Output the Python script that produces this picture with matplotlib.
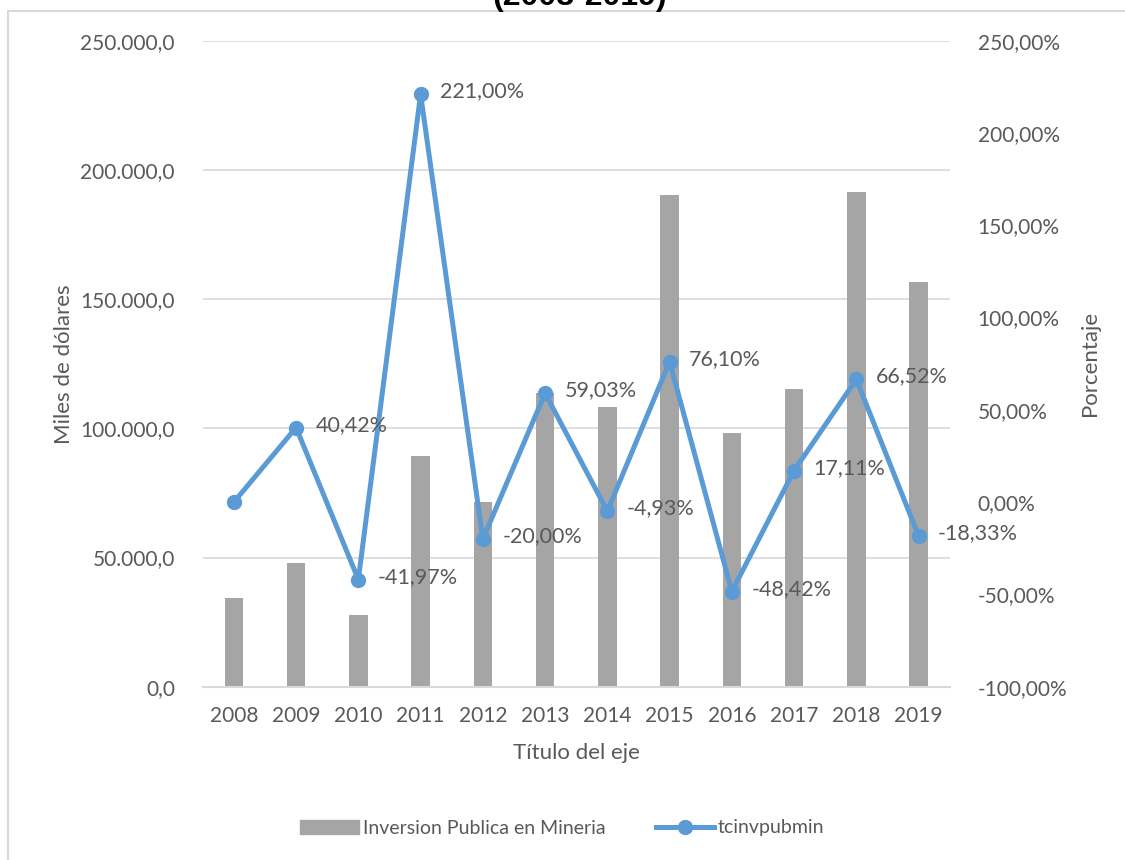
import numpy as np
import matplotlib
matplotlib.use("Agg")
import matplotlib.pyplot as plt
from matplotlib.lines import Line2D
from matplotlib.patches import Patch, Rectangle
from matplotlib.ticker import FuncFormatter

# ── data ──
years = ["2008", "2009", "2010", "2011", "2012", "2013",
         "2014", "2015", "2016", "2017", "2018", "2019"]
inversion = [34180, 48000, 27850, 89400, 71520, 113740,
             108130, 190420, 98220, 115030, 191540, 156430]
tasa = [0.0, 40.42, -41.97, 221.00, -20.00, 59.03,
        -4.93, 76.10, -48.42, 17.11, 66.52, -18.33]
tasa_labels = [None, "40,42%", "-41,97%", "221,00%", "-20,00%", "59,03%",
               "-4,93%", "76,10%", "-48,42%", "17,11%", "66,52%", "-18,33%"]

BAR_COL = "#A5A5A5"
LINE_COL = "#5B9BD5"
TXT = "#595959"
GRID = "#D9D9D9"

plt.rcParams["font.family"] = ["Lato", "DejaVu Sans"]

fig = plt.figure(figsize=(11.25, 8.6), dpi=100)
ax = fig.add_axes([0.1802, 0.2015, 0.6640, 0.7512])
ax2 = ax.twinx()

x = np.arange(len(years))
ax.bar(x, inversion, width=0.3, color=BAR_COL, zorder=2)
ax.set_xlim(-0.5, len(years) - 0.5)
ax.set_ylim(0, 250000)
ax.set_yticks(np.arange(0, 250001, 50000))
ax.yaxis.set_major_formatter(FuncFormatter(
    lambda v, p: f"{v:,.1f}".replace(",", "X").replace(".", ",").replace("X", ".")))
ax.grid(axis="y", color=GRID, linewidth=1.2, zorder=0)
ax.set_axisbelow(True)
ax.set_xticks(x)
ax.set_xticklabels(years)

ax2.plot(x, tasa, color=LINE_COL, linewidth=3.6, marker="o", markersize=10,
         zorder=3, solid_capstyle="round")
ax2.set_ylim(-100, 250)
ax2.set_yticks(np.arange(-100, 251, 50))
ax2.yaxis.set_major_formatter(FuncFormatter(
    lambda v, p: f"{v:.2f}%".replace(".", ",")))

for xi, yi, lab in zip(x, tasa, tasa_labels):
    if lab is None:
        continue
    ax2.annotate(lab, (xi, yi), xytext=(14, 2), textcoords="offset points",
                 ha="left", va="center", fontsize=15.5, color=TXT)

for a in (ax, ax2):
    for s in a.spines.values():
        s.set_visible(False)
    a.tick_params(length=0, labelsize=15, colors=TXT)
ax.spines["bottom"].set_visible(True)
ax.spines["bottom"].set_color(GRID)
ax.spines["bottom"].set_linewidth(1.5)
ax.tick_params(axis="x", pad=14)
ax.tick_params(axis="y", pad=20)
ax2.tick_params(axis="y", pad=20)

ax.set_xlabel("Título del eje", fontsize=16, color=TXT, labelpad=12)
ax.set_ylabel("Miles de dólares", fontsize=16, color=TXT, labelpad=5)
ax2.set_ylabel("Porcentaje", fontsize=16, color=TXT, labelpad=9)

handles = [Patch(color=BAR_COL),
           Line2D([0], [0], color=LINE_COL, linewidth=3.6, marker="o", markersize=10)]
fig.legend(handles, ["Inversion Publica en Mineria", "tcinvpubmin"],
           loc="center", bbox_to_anchor=(0.5, 1 - 828 / 860), ncol=2,
           frameon=False, fontsize=14, labelcolor=TXT, handlelength=3.0,
           handletextpad=0.2, columnspacing=2.6)

# partially visible title and chart border
fig.text(0.515, 1 - 5 / 860, "(2008-2019)", ha="center", va="baseline",
         fontsize=23, fontweight="bold", family="Liberation Sans", color="black")
fig.patches.append(Rectangle((8 / 1125, -0.05), 1.1, 1 - 11 / 860 + 0.05,
                             transform=fig.transFigure, fill=False,
                             edgecolor=GRID, linewidth=1.5))

fig.savefig("out.png", dpi=100)
